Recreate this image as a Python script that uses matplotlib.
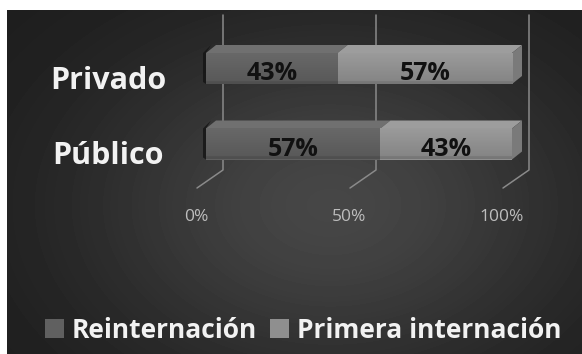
import numpy as np
import matplotlib
matplotlib.use("Agg")
import matplotlib.pyplot as plt
from matplotlib.patches import Polygon
from matplotlib.colors import to_rgb

# --- data -------------------------------------------------------------
categories = ["Público", "Privado"]
reinternacion = [57, 43]
primera_internacion = [43, 57]
series_names = ["Reinternación", "Primera internación"]
tick_values = [0, 50, 100]
tick_labels = ["0%", "50%", "100%"]

# --- style ------------------------------------------------------------
FONT = ["Open Sans", "DejaVu Sans"]
W, H = 582, 354
front_cols = ["#606060", "#8f8f8f"]
top_cols = ["#707070", "#9d9d9d"]
side_col = "#7a7a7a"
grid_col = "#8a8a8a"

fig = plt.figure(figsize=(W / 100, H / 100), dpi=100)
fig.patch.set_facecolor("white")

# dark radial backdrop
bg = fig.add_axes([7 / W, 0, (W - 7) / W, (H - 10) / H])
bg.set_axis_off()
yy, xx = np.mgrid[10:H, 7:W]
r2 = ((xx - 330) / 300.0) ** 2 + ((yy - 205) / 210.0) ** 2
shade = 0.11 + 0.165 * np.exp(-1.5 * r2)
bg.imshow(shade, cmap="gray", vmin=0, vmax=1, extent=[7, W, H, 10],
          aspect="auto", interpolation="bilinear")
bg.set_xlim(7, W)
bg.set_ylim(H, 10)

# plotting axes (front plane of the bars)
ax = fig.add_axes([206 / W, (H - 181.75) / H, 306 / W, 151 / H])
ax.set_axis_off()
ax.patch.set_visible(False)

px_x = 100 / 306.0      # data units per pixel, horizontal
px_y = 1 / 75.5         # data units per pixel, vertical
DX, DY = 10 * px_x, 8 * px_y   # depth of the 3-D bars
bar_h = 31 * px_y

# gridlines on the back wall with a floor segment toward the front
for v in tick_values:
    xs = [v + 17 * px_x, v + 17 * px_x, v - 9 * px_x]
    ys = [1.709, -0.344, -0.583]
    ax.plot(xs, ys, color=grid_col, lw=1.1, zorder=1, clip_on=False,
            solid_capstyle="round")

for v, lab in zip(tick_values, tick_labels):
    ax.text(v - 10 * px_x, -1.02, lab, ha="center", va="baseline",
            fontsize=12.5, color="#bdbdbd", family=FONT, clip_on=False)


def face_gradient(color):
    """Vertical shading for a bar front: lighter band near the top."""
    base = np.array(to_rgb(color))
    t = np.linspace(0, 1, 32)[:, None]          # 0 = top, 1 = bottom
    k = 1.08 - 0.16 * t
    k[-3:] *= 0.9
    img = np.clip(base[None, None, :] * k[:, :, None], 0, 1)
    return img


ypos = np.arange(len(categories))
series = [reinternacion, primera_internacion]
handles = []
for s, vals in enumerate(series):
    lefts = np.sum(series[:s], axis=0) if s else np.zeros(len(vals))
    bars = ax.barh(ypos, vals, left=lefts, height=bar_h,
                   color=front_cols[s], zorder=3, label=series_names[s],
                   clip_on=False)
    handles.append(bars)
    for i, (x0, v) in enumerate(zip(lefts, vals)):
        x1 = x0 + v
        yt = ypos[i] + bar_h / 2
        yb = ypos[i] - bar_h / 2
        ax.imshow(face_gradient(front_cols[s]), extent=[x0, x1, yb, yt],
                  aspect="auto", zorder=3.2, interpolation="bilinear",
                  clip_on=False)
        top = Polygon([(x0, yt), (x1, yt), (x1 + DX, yt + DY), (x0 + DX, yt + DY)],
                      closed=True, facecolor=top_cols[s], edgecolor="none",
                      zorder=2.5, clip_on=False)
        ax.add_patch(top)
        if s == 0:
            shadow = Polygon([(x0 - 3 * px_x, yb + 2 * px_y), (x0 - 3 * px_x, yt),
                              (x0 + 0.5 * DX, yt + DY), (x0, yt), (x0, yb)],
                             closed=True, facecolor="#141414", edgecolor="none",
                             alpha=0.8, zorder=2.4, clip_on=False)
            ax.add_patch(shadow)
        if s == len(series) - 1:
            side = Polygon([(x1, yb), (x1, yt), (x1 + DX, yt + DY), (x1 + DX, yb + DY)],
                           closed=True, facecolor=side_col, edgecolor="none",
                           zorder=2.5, clip_on=False)
            ax.add_patch(side)
        ax.text(x0 + v / 2, ypos[i] - 11.5 * px_y, f"{v}%", ha="center",
                va="baseline", fontsize=18, fontweight="bold", color="#111111",
                family=FONT, zorder=5)

ax.set_xlim(0, 100)
ax.set_ylim(-0.5, 1.5)

# category names
for i, cat in enumerate(categories):
    ax.text((108 - 206) * px_x, ypos[i] - 20.5 * px_y, cat, ha="center",
            va="baseline", fontsize=22, fontweight="bold", color="#f2f2f2",
            family=FONT, clip_on=False)

leg = fig.legend(handles=handles, labels=series_names, loc="center",
                 bbox_to_anchor=(303 / W, (H - 330) / H), ncol=2, frameon=False,
                 handlelength=0.72, handleheight=0.72, handletextpad=0.3,
                 columnspacing=0.5, borderpad=0, borderaxespad=0,
                 prop={"family": FONT, "weight": "bold", "size": 19})
for t in leg.get_texts():
    t.set_color("#f2f2f2")

fig.savefig("out.png", dpi=100, facecolor=fig.get_facecolor())
